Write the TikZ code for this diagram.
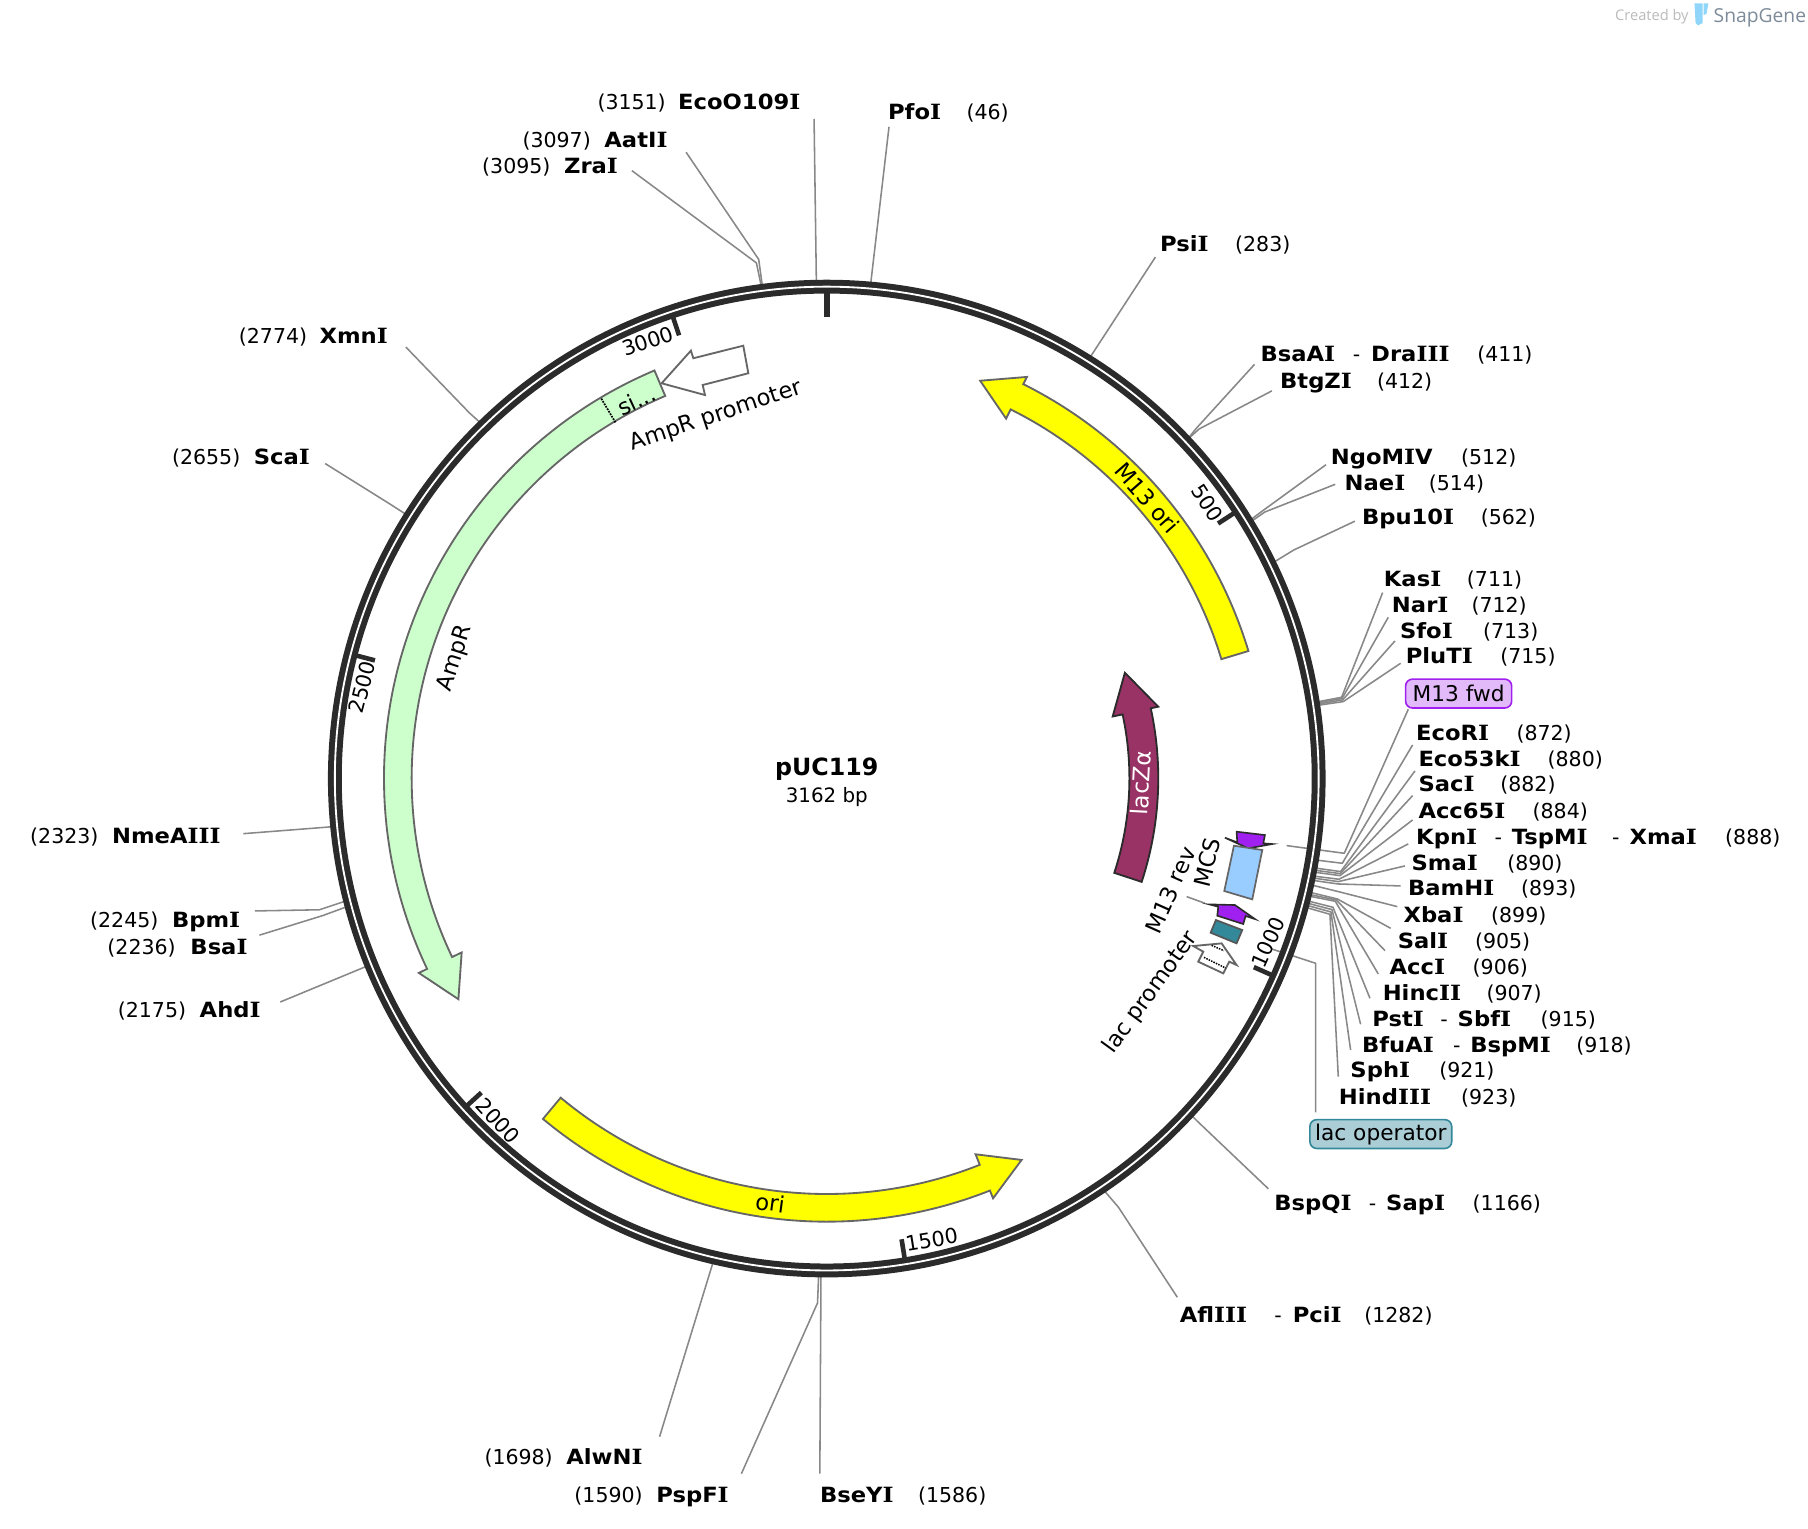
\documentclass[tikz,border=0pt]{standalone}
\usepackage{fontspec}
\setmainfont{DejaVu Sans}
\newfontfamily\logofont{Open Sans}
\newfontface\labbold[FakeStretch=1.08]{DejaVu Sans Bold}
\newfontface\labserif[FakeStretch=1.12]{DejaVu Serif Bold}
\newcommand{\vI}{{\labserif I}}
\definecolor{ringc}{HTML}{2B2B2B}
\definecolor{leadc}{HTML}{888888}
\definecolor{edgec}{HTML}{666666}
\definecolor{yell}{HTML}{FFFF00}
\definecolor{amp}{HTML}{CCFFCC}
\definecolor{lacz}{HTML}{993366}
\definecolor{mfwd}{HTML}{A020F0}
\definecolor{mfwdl}{HTML}{E2B9F9}
\definecolor{mcsc}{HTML}{99CCFF}
\definecolor{teal}{HTML}{338899}
\definecolor{tealt}{HTML}{ABCDD6}
\definecolor{sgblue}{HTML}{8FD6FA}
\definecolor{sggray}{HTML}{7D8B99}
\definecolor{sglight}{HTML}{BBBBBB}
\newcounter{labcnt}
\newcommand{\pol}[2]{({717+(#1)*sin(#2)},{675-(#1)*cos(#2)})}
\newcommand{\tbold}[3]{\stepcounter{labcnt}\node[lab,font=\fontsize{18.2}{20}\labbold] (t\thelabcnt) at (#1,#2+6.8) {#3};}
\newcommand{\treg}[3]{\stepcounter{labcnt}\node[lab] (t\thelabcnt) at (#1,#2+6.8) {#3};}
\newcommand{\rot}[4]{\stepcounter{labcnt}\node[rotlab,rotate=#3] (t\thelabcnt) at (#1,#2) {#4};}
\newcommand{\ticklab}[4]{\stepcounter{labcnt}\node[rotlab,font=\fontsize{18}{20}\selectfont,rotate=#3] (t\thelabcnt) at (#1,#2) {#4};}
\newcommand{\leadthree}[4]{\coordinate (#1-a) at #2;\coordinate (#1-b) at #3;\coordinate (#1-c) at #4;\draw[leader] (#1-a) -- (#1-b) -- (#1-c);}
\newcommand{\leadtwo}[3]{\coordinate (#1-a) at #2;\coordinate (#1-b) at #3;\draw[leader] (#1-a) -- (#1-b);}
\newcommand{\feat}[9]{\draw[#1] plot[domain=#4:#5,samples=120] ({717+(#3)*sin(\x)},{675-(#3)*cos(\x)}) -- \pol{#9}{#5} -- \pol{#7}{#6} -- \pol{#8}{#5} -- plot[domain=#5:#4,samples=120] ({717+(#2)*sin(\x)},{675-(#2)*cos(\x)}) -- cycle;}
\newcommand{\tick}[1]{\draw[tickline] \pol{405}{#1} -- \pol{423}{#1};}
\tikzset{
  lab/.style={anchor=base west,inner sep=0pt,font=\fontsize{17.8}{20}\selectfont},
  rotlab/.style={inner sep=0pt,font=\fontsize{19.6}{22}\selectfont},
  leader/.style={draw=leadc,line width=1.35pt,line join=round},
  tickline/.style={draw=ringc,line width=4pt},
  featshape/.style={draw=edgec,line width=1.6pt,line join=miter},
  zoomA/.style={shift={(997.3,676.4)},x=0.28908pt,y=-0.28908pt},
  zoomB/.style={shift={(1023.3,702.5)},x=0.28908pt,y=-0.28908pt},
  tag/.style={rounded corners=6pt,line width=1.4pt,inner sep=0pt,font=\fontsize{18.8}{20}\selectfont}
}
\begin{document}
\begin{tikzpicture}[x=1pt,y=-1pt]
\useasboundingbox (0,0) rectangle (1568,1325.2);
\fill[white] (0,0) rectangle (1568,1325.2);
% leaders, left and top
\leadtwo{eco}{(706,103)}{(708,245)}
\leadtwo{pfo}{(771,110)}{(755,247)}
\leadthree{aat}{(595,132)}{(658,225)}{(661,247)}
\leadthree{zra}{(548,148)}{(656,228)}{(660,247)}
\leadthree{xmn}{(352,301)}{(407,358)}{(417,367)}
\leadthree{sca}{(282,402)}{(338,437)}{(352,446)}
\leadtwo{nme}{(211,723)}{(288,717)}
\leadthree{bpm}{(221,790)}{(277,789)}{(298,782)}
\leadthree{bsa}{(225,811)}{(280,794)}{(299,787)}
\leadtwo{ahd}{(243,869)}{(318,838)}
\leadtwo{alw}{(572,1246)}{(618,1096)}
\leadthree{psp}{(643,1278)}{(709,1130)}{(710,1105)}
\leadtwo{bse}{(711,1278)}{(712,1105)}
\leadthree{afl}{(1021,1125)}{(970,1047)}{(958,1033)}
\leadthree{bsp}{(1100,1031)}{(1038,972)}{(1028,962)}
\leadtwo{psi}{(1002,223)}{(944,312)}
\leadthree{bsaa}{(1088,316)}{(1037,372)}{(1029,382)}
\leadthree{btg}{(1103,339)}{(1040,372)}{(1030,381)}
\leadthree{ngo}{(1150,403)}{(1095,443)}{(1083,452)}
\leadthree{nae}{(1158,420)}{(1097,444)}{(1084,453)}
\leadthree{bpu}{(1175,452)}{(1122,477)}{(1104,488)}
% leaders, right cluster
\begin{scope}[zoomA]
\leadthree{kas}{(698,-562)}{(575,-248)}{(490,-232)}
\leadthree{nar}{(715,-488)}{(576,-244)}{(490,-229)}
\leadthree{sfo}{(735,-417)}{(578,-240)}{(490,-225)}
\leadthree{plu}{(752,-350)}{(580,-235)}{(490,-222)}
\leadthree{fwd}{(775,-212)}{(583,220)}{(410,197)}
\leadthree{ecor}{(788,-105)}{(577,250)}{(480,238)}
\leadthree{eco53}{(795,-27)}{(572,275)}{(480,262)}
\leadthree{sac}{(788,47)}{(571,281)}{(480,269)}
\leadthree{acc65}{(788,120)}{(570,287)}{(480,275)}
\leadthree{kpn}{(775,192)}{(567,298)}{(480,287)}
\leadthree{sma}{(765,258)}{(565,305)}{(480,293)}
\leadthree{bam}{(752,318)}{(563,312)}{(480,300)}
\leadthree{xba}{(742,380)}{(565,335)}{(480,314)}
\leadthree{sal}{(722,445)}{(562,357)}{(475,336)}
\leadthree{accc}{(705,512)}{(559,360)}{(475,343)}
\leadthree{hin}{(685,582)}{(556,364)}{(475,348)}
\leadthree{pst}{(660,655)}{(549,382)}{(470,362)}
\leadthree{bfu}{(632,733)}{(546,389)}{(470,369)}
\leadthree{sph}{(602,810)}{(543,396)}{(470,376)}
\leadthree{hind}{(565,890)}{(540,403)}{(470,383)}
\leadthree{lacop}{(497,997)}{(497,550)}{(365,507)}
\leadtwo{rev}{(110,350)}{(165,370)}
\end{scope}
% ring
\draw[ringc,line width=12pt] (717,675.2) circle[radius=426.6];
\draw[white,line width=1.6pt] (717,675.2) circle[radius=426.6];
\draw[tickline,line width=5pt] \pol{400}{0} -- \pol{423}{0};
\tick{56.93}\tick{113.85}\tick{170.78}\tick{227.70}\tick{284.63}\tick{341.56}
\ticklab{1047}{436}{-56.9}{500}
\ticklab{1100}{817}{66.1}{1000}
\ticklab{808}{1075}{9.2}{1500}
\ticklab{432}{972}{-47.7}{2000}
\ticklab{314}{596}{75.4}{2500}
\ticklab{562}{296}{18.4}{3000}
% features
\feat{featshape,fill=yell}{357.5}{382}{73.2}{26.5}{21.1}{369.6}{348.6}{389}
\feat{featshape,fill=amp}{360}{384}{337.1}{244.5}{239.05}{372.5}{350.8}{392}
\feat{featshape,fill=yell}{360.5}{384.5}{219.8}{158.4}{152.95}{371.6}{350.7}{391.8}
\feat{draw=ringc,line width=1.6pt,fill=lacz}{262.5}{287.5}{108.2}{77.8}{70.5}{274.3}{253.7}{294.1}
\draw[black,line width=1.5pt,densely dotted] \pol{359}{329.3} -- \pol{384}{329.3};
\draw[featshape,fill=white] (573.8,332.4) -- (599.2,304.1) -- (601.3,310.7) -- (644.6,299.8) -- (649,323.7) -- (609.4,333.9) -- (611.4,342.6) -- cycle;
\begin{scope}[zoomB]
\draw[draw=ringc,line width=1.4pt,fill=mfwd,line join=miter] (135,83) -- (172,97) -- (170,65) -- (255,75) -- (250,100) -- (277,102) -- (205,115) -- cycle;
\draw[draw=edgec,line width=1.5pt,fill=mcsc] (162,107) -- (247,120) -- (217,268) -- (133,243) -- cycle;
\draw[draw=ringc,line width=1.4pt,fill=mfwd,line join=miter] (88,283) -- (165,285) -- (225,327) -- (197,318) -- (190,342) -- (112,317) -- (115,290) -- cycle;
\draw[draw=ringc!80,line width=1.5pt,fill=teal] (108,330) -- (187,360) -- (170,400) -- (92,368) -- cycle;
\draw[featshape,fill=white] (40,408) -- (125,400) -- (170,465) -- (148,455) -- (130,490) -- (55,455) -- (70,425) -- cycle;
\draw[black,line width=1.3pt,densely dotted] (95,406) -- (132,422);
\draw[black,line width=1.3pt,densely dotted] (72,442) -- (137,474);
\end{scope}
% feature labels
\rot{995}{432}{-48.8}{M13 ori}
\rot{668}{1043}{-7.6}{ori}
\rot{395}{571}{72.3}{AmpR}
\rot{552}{347}{25}{si...}
\rot{621}{361}{18.5}{AmpR promoter}
\stepcounter{labcnt}\node[rotlab,rotate=87,text=white,font=\fontsize{20}{22}\selectfont] (t\thelabcnt) at (989.5,679) {lacZα};
\rot{1047}{748}{76}{MCS}
\rot{1015}{772}{66}{M13 rev}
\rot{998}{861}{54}{lac promoter}
% centre
\stepcounter{labcnt}\node[inner sep=0pt,font=\fontsize{20.6}{22}\selectfont\bfseries] (t\thelabcnt) at (717,667) {pUC119};
\stepcounter{labcnt}\node[inner sep=0pt,font=\fontsize{17.2}{20}\selectfont] (t\thelabcnt) at (717,691) {3162 bp};
% tags
\node[tag,draw=mfwd,fill=mfwdl,minimum width=92pt,minimum height=25pt] (m13fwd) at (1265,601.5) {M13 fwd};
\node[tag,draw=teal,fill=tealt,minimum width=123pt,minimum height=25pt] (lacoperator) at (1197.5,983.5) {lac operator};
% enzyme labels
\treg{518}{88}{(3151)}\tbold{588}{88}{EcoO109\vI}
\treg{453}{121}{(3097)}\tbold{524}{121}{AatI\vI}
\treg{418}{144}{(3095)}\tbold{489}{144}{Zra\vI}
\tbold{770}{97}{Pfo\vI}\treg{838}{97}{(46)}
\tbold{1006}{211}{Psi\vI}\treg{1071}{211}{(283)}
\tbold{1093}{307}{BsaA\vI}\treg{1173}{307}{-}\tbold{1189}{307}{Dra\vI\vI\vI}\treg{1281}{307}{(411)}
\tbold{1110}{330}{BtgZ\vI}\treg{1194}{330}{(412)}
\tbold{1154}{396}{NgoM\vI V}\treg{1267}{396}{(512)}
\tbold{1166}{419}{Nae\vI}\treg{1239}{419}{(514)}
\tbold{1181}{448}{Bpu10\vI}\treg{1284}{448}{(562)}
\tbold{1200}{502}{Kas\vI}\treg{1272}{502}{(711)}
\tbold{1207}{524}{Nar\vI}\treg{1276}{524}{(712)}
\tbold{1214}{547}{Sfo\vI}\treg{1286}{547}{(713)}
\tbold{1219}{569}{PluT\vI}\treg{1301}{569}{(715)}
\tbold{1228}{635}{EcoR\vI}\treg{1315}{635}{(872)}
\tbold{1230}{658}{Eco53k\vI}\treg{1342}{658}{(880)}
\tbold{1230}{680}{Sac\vI}\treg{1301}{680}{(882)}
\tbold{1230}{703}{Acc65\vI}\treg{1329}{703}{(884)}
\tbold{1228}{726}{Kpn\vI}\treg{1296}{726}{-}\tbold{1311}{726}{TspM\vI}\treg{1398}{726}{-}\tbold{1413}{726}{Xma\vI}\treg{1496}{726}{(888)}
\tbold{1224}{748}{Sma\vI}\treg{1307}{748}{(890)}
\tbold{1221}{770}{BamH\vI}\treg{1319}{770}{(893)}
\tbold{1217}{793}{Xba\vI}\treg{1293}{793}{(899)}
\tbold{1212}{816}{Sal\vI}\treg{1279}{816}{(905)}
\tbold{1205}{838}{Acc\vI}\treg{1277}{838}{(906)}
\tbold{1199}{861}{Hinc\vI\vI}\treg{1289}{861}{(907)}
\tbold{1190}{883}{Pst\vI}\treg{1249}{883}{-}\tbold{1264}{883}{Sbf\vI}\treg{1336}{883}{(915)}
\tbold{1181}{906}{BfuA\vI}\treg{1260}{906}{-}\tbold{1275}{906}{BspM\vI}\treg{1367}{906}{(918)}
\tbold{1171}{928}{Sph\vI}\treg{1248}{928}{(921)}
\tbold{1161}{951}{Hind\vI\vI\vI}\treg{1267}{951}{(923)}
\tbold{1105}{1043}{BspQ\vI}\treg{1187}{1043}{-}\tbold{1202}{1043}{Sap\vI}\treg{1277}{1043}{(1166)}
\tbold{1023}{1140}{Afl\vI\vI\vI}\treg{1105}{1140}{-}\tbold{1121}{1140}{Pci\vI}\treg{1183}{1140}{(1282)}
\tbold{711}{1296}{BseY\vI}\treg{796}{1296}{(1586)}
\treg{498}{1296}{(1590)}\tbold{569}{1296}{PspF\vI}
\treg{420}{1263}{(1698)}\tbold{491}{1263}{AlwN\vI}
\treg{102}{876}{(2175)}\tbold{173}{876}{Ahd\vI}
\treg{93}{821}{(2236)}\tbold{165}{821}{Bsa\vI}
\treg{78}{798}{(2245)}\tbold{149}{798}{Bpm\vI}
\treg{26}{725}{(2323)}\tbold{97}{725}{NmeA\vI\vI\vI}
\treg{149}{396}{(2655)}\tbold{220}{396}{Sca\vI}
\treg{207}{291}{(2774)}\tbold{277}{291}{Xmn\vI}
% logo
\node[anchor=base west,inner sep=0pt,text=sglight,font=\logofont\fontsize{12.7}{14}\selectfont] (createdby) at (1400.5,18) {Created by};
\node[anchor=base west,inner sep=0pt,text=sggray,font=\logofont\fontsize{16.7}{20}\selectfont] (snapgene) at (1486,19.5) {SnapGene};
\fill[sgblue] (1469.5,3) -- (1476.5,3) -- (1476.5,20) -- (1472.5,22) -- (1470.5,20) -- cycle;
\fill[sgblue] (1477.5,3) -- (1481.5,3) -- (1480,12) -- (1477.5,13) -- cycle;
\end{tikzpicture}
\end{document}
